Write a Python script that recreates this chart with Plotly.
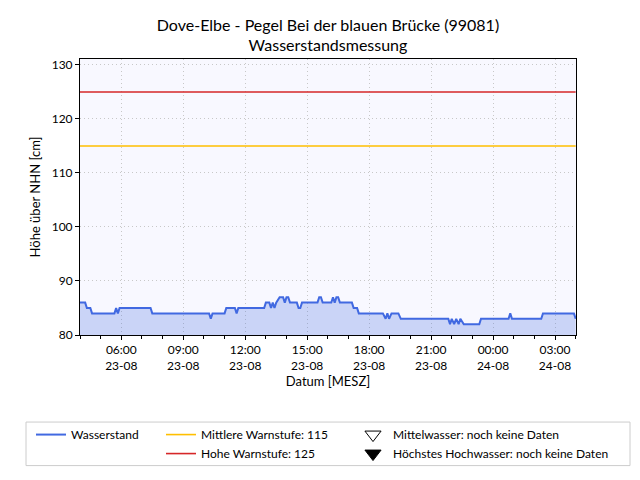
import plotly.graph_objects as go

# ---- data ----
times = [
    "2023-08-23 04:00", "2023-08-23 04:15", "2023-08-23 04:20", "2023-08-23 04:30", "2023-08-23 04:35",
    "2023-08-23 05:40", "2023-08-23 05:45", "2023-08-23 05:50", "2023-08-23 05:55",
    "2023-08-23 07:25", "2023-08-23 07:30",
    "2023-08-23 10:15", "2023-08-23 10:20", "2023-08-23 10:25",
    "2023-08-23 11:00", "2023-08-23 11:05", "2023-08-23 11:30", "2023-08-23 11:35", "2023-08-23 11:40",
    "2023-08-23 12:55", "2023-08-23 13:00", "2023-08-23 13:10", "2023-08-23 13:15", "2023-08-23 13:20",
    "2023-08-23 13:25", "2023-08-23 13:30", "2023-08-23 13:40", "2023-08-23 13:50", "2023-08-23 13:55",
    "2023-08-23 14:00", "2023-08-23 14:05", "2023-08-23 14:10", "2023-08-23 14:30", "2023-08-23 14:35",
    "2023-08-23 14:40", "2023-08-23 14:45", "2023-08-23 15:30", "2023-08-23 15:35", "2023-08-23 15:40",
    "2023-08-23 15:45", "2023-08-23 16:10", "2023-08-23 16:15", "2023-08-23 16:20", "2023-08-23 16:25",
    "2023-08-23 16:30", "2023-08-23 16:35", "2023-08-23 17:10", "2023-08-23 17:15", "2023-08-23 17:25",
    "2023-08-23 17:30", "2023-08-23 18:40", "2023-08-23 18:48", "2023-08-23 18:53", "2023-08-23 18:58",
    "2023-08-23 19:05", "2023-08-23 19:25", "2023-08-23 19:32", "2023-08-23 21:50", "2023-08-23 21:55",
    "2023-08-23 22:00", "2023-08-23 22:07", "2023-08-23 22:13", "2023-08-23 22:20", "2023-08-23 22:25",
    "2023-08-23 22:35", "2023-08-23 23:20", "2023-08-23 23:25",
    "2023-08-24 00:45", "2023-08-24 00:50", "2023-08-24 00:55",
    "2023-08-24 02:20", "2023-08-24 02:25", "2023-08-24 03:55", "2023-08-24 04:00",
]
wasserstand = [
    86, 86, 85, 85, 84,
    84, 85, 84, 85,
    85, 84,
    84, 83, 84,
    84, 85, 85, 84, 85,
    85, 86, 86, 85, 86,
    85, 86, 87, 87, 86,
    87, 87, 86, 86, 85,
    85, 86, 86, 87, 87,
    86, 86, 87, 86, 87,
    87, 86, 86, 85, 85,
    84, 84, 83, 84, 83,
    84, 84, 83, 83, 82,
    83, 82, 83, 82, 83,
    82, 82, 83,
    83, 84, 83,
    83, 84, 84, 83,
]
mittlere_warnstufe = 115
hohe_warnstufe = 125
y_ticks = [80, 90, 100, 110, 120, 130]

FONT = "Lato"
# the page body adds an 8px offset, so the figure is laid out 8px smaller
W, H = 632, 472
PL, PR, PT, PB = 72, 568, 51, 330  # plot area in figure pixels


def px_to_paper_x(px):
    return (px - PL) / (PR - PL)


def px_to_paper_y(py):
    return (PB - py) / (PB - PT)


fig = go.Figure()

fig.add_trace(go.Scatter(
    x=times, y=wasserstand, mode="lines", name="Wasserstand",
    line=dict(color="rgba(0,0,0,0)", width=0),
    fill="tozeroy", fillcolor="rgba(65,105,225,0.25)",
    showlegend=False, hoverinfo="skip",
))
fig.add_trace(go.Scatter(
    x=times, y=wasserstand, mode="lines", name="Wasserstand",
    line=dict(color="#4169e1", width=2),
    legend="legend", showlegend=True,
))
fig.add_trace(go.Scatter(
    x=[times[0], times[-1]], y=[mittlere_warnstufe] * 2, mode="lines",
    name="Mittlere Warnstufe: %d" % mittlere_warnstufe,
    line=dict(color="#ffbf00", width=1.6), legend="legend2", showlegend=True,
))
fig.add_trace(go.Scatter(
    x=[times[0], times[-1]], y=[hohe_warnstufe] * 2, mode="lines",
    name="Hohe Warnstufe: %d" % hohe_warnstufe,
    line=dict(color="#d62728", width=1.6), legend="legend2", showlegend=True,
))
fig.add_trace(go.Scatter(
    x=[None], y=[None], mode="markers", name="Mittelwasser: noch keine Daten",
    marker=dict(symbol="triangle-down", size=14, color="white",
                line=dict(color="black", width=1)),
    legend="legend3", showlegend=True,
))
fig.add_trace(go.Scatter(
    x=[None], y=[None], mode="markers", name="Höchstes Hochwasser: noch keine Daten",
    marker=dict(symbol="triangle-down", size=14, color="black",
                line=dict(color="black", width=1)),
    legend="legend3", showlegend=True,
))

leg_common = dict(bgcolor="rgba(0,0,0,0)", borderwidth=0, font=dict(family=FONT, size=12, color="black"),
                  yanchor="top", y=px_to_paper_y(416), xanchor="left", tracegroupgap=0)

fig.update_layout(
    width=W, height=H,
    margin=dict(l=PL, r=W - PR, t=PT, b=H - PB),
    paper_bgcolor="white", plot_bgcolor="#f8f8ff",
    font=dict(family=FONT, size=12, color="black"),
    title=dict(text="Dove-Elbe - Pegel Bei der blauen Brücke (99081)<br>Wasserstandsmessung",
               x=0.5, xanchor="center", xref="paper", yref="container", y=1 - 22.5 / H, yanchor="top",
               font=dict(family=FONT, size=16, color="black")),
    legend=dict(x=px_to_paper_x(23), **leg_common),
    legend2=dict(x=px_to_paper_x(153), **leg_common),
    legend3=dict(x=px_to_paper_x(345), **leg_common),
    shapes=[dict(type="rect", xref="paper", yref="paper",
                 x0=px_to_paper_x(18), x1=px_to_paper_x(622),
                 y0=px_to_paper_y(462), y1=px_to_paper_y(418),
                 line=dict(color="#cccccc", width=1), fillcolor="rgba(0,0,0,0)", layer="above")],
)

fig.update_xaxes(
    type="date", range=["2023-08-23 04:00", "2023-08-24 04:01"],
    dtick=3 * 3600 * 1000, tick0="2023-08-23 00:00", tickformat="%H:%M<br>%d-%m",
    ticks="outside", ticklen=4, tickcolor="black",
    minor=dict(dtick=3600 * 1000, ticks="outside", ticklen=2.5, tickcolor="black", showgrid=False),
    showgrid=True, gridcolor="#c8c8c8", griddash="1px,3px", gridwidth=1,
    showline=True, linecolor="black", linewidth=1, mirror=True, zeroline=False,
    title=dict(text="Datum [MESZ]", font=dict(family=FONT, size=13), standoff=2),
    tickfont=dict(family=FONT, size=12),
)
fig.update_yaxes(
    range=[80, 131.1], tickvals=y_ticks,
    ticks="outside", ticklen=4, tickcolor="black",
    showgrid=True, gridcolor="#c8c8c8", griddash="1px,3px", gridwidth=1,
    showline=True, linecolor="black", linewidth=1, mirror=True, zeroline=False,
    title=dict(text="Höhe über NHN [cm]", font=dict(family=FONT, size=13), standoff=8),
    tickfont=dict(family=FONT, size=12),
)

fig.write_html("out.html")
